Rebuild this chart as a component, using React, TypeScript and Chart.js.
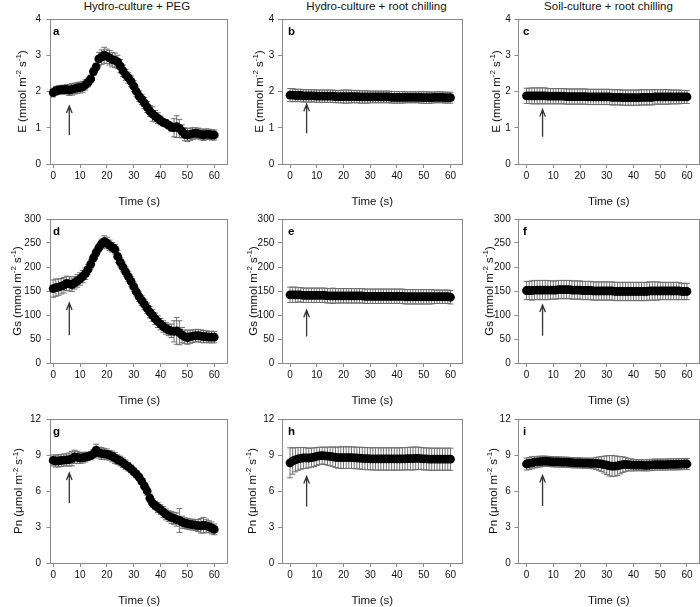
import React, { useEffect, useRef } from 'react';
import { Chart, registerables } from 'chart.js';

Chart.register(...registerables);

const FONT = "'Liberation Sans', Arial, Helvetica, sans-serif";
Chart.defaults.font.family = FONT;

// ---------------- data ----------------
const TIME = [
  0, 1, 2, 3, 4, 5, 6, 7, 8, 9, 10, 11, 12, 13, 14, 15, 16, 17, 18, 19, 20,
  21, 22, 23, 24, 25, 26, 27, 28, 29, 30, 31, 32, 33, 34, 35, 36, 37, 38, 39, 40,
  41, 42, 43, 44, 45, 46, 47, 48, 49, 50, 51, 52, 53, 54, 55, 56, 57, 58, 59, 60,
];

const X_TICKS = [0, 10, 20, 30, 40, 50, 60];
const Y_TICKS_E = [0, 1, 2, 3, 4];
const Y_TICKS_GS = [0, 50, 100, 150, 200, 250, 300];
const Y_TICKS_PN = [0, 3, 6, 9, 12];

const COL_TITLES = ['Hydro-culture + PEG', 'Hydro-culture + root chilling', 'Soil-culture + root chilling'];
const ROW_LABELS = ['E (mmol m', 'Gs (mmol m', 'Pn (\u03bcmol m'];
const PANEL_LETTERS = ['a', 'b', 'c', 'd', 'e', 'f', 'g', 'h', 'i'];
const X_TITLE = 'Time (s)';

// arrows (time, tail value, tip value) per panel a..i
const ARROW_TIME = [6, 6.2, 6, 6, 6.2, 6, 6, 6.2, 6];
const ARROW_FROM = [0.8, 0.85, 0.75, 58, 55, 57, 5.0, 4.7, 4.75];
const ARROW_TO = [1.6, 1.65, 1.5, 125, 110, 121, 7.5, 7.2, 7.3];

// E, transpiration
const E_PEG = [
  1.97, 2.02, 2.04, 2.05, 2.05, 2.06, 2.04, 2.06, 2.08, 2.10,
  2.11, 2.13, 2.18, 2.25, 2.35, 2.55, 2.68, 2.90, 2.95, 3.00,
  2.97, 2.93, 2.88, 2.86, 2.82, 2.70, 2.57, 2.46, 2.38, 2.28,
  2.15, 2.00, 1.87, 1.78, 1.68, 1.57, 1.46, 1.38, 1.32, 1.26,
  1.20, 1.15, 1.12, 1.07, 1.02, 1.00, 1.03, 0.98, 0.90, 0.82,
  0.80, 0.82, 0.84, 0.85, 0.84, 0.82, 0.80, 0.82, 0.82, 0.80,
  0.80,
];
const E_PEG_SD = [
  0.12, 0.12, 0.12, 0.12, 0.12, 0.13, 0.15, 0.16, 0.15, 0.15,
  0.15, 0.15, 0.14, 0.12, 0.10, 0.10, 0.10, 0.18, 0.20, 0.22,
  0.20, 0.20, 0.20, 0.20, 0.18, 0.18, 0.16, 0.15, 0.15, 0.15,
  0.15, 0.15, 0.14, 0.14, 0.15, 0.15, 0.15, 0.20, 0.16, 0.15,
  0.12, 0.10, 0.10, 0.10, 0.12, 0.25, 0.30, 0.25, 0.18, 0.18,
  0.18, 0.17, 0.16, 0.15, 0.15, 0.15, 0.15, 0.15, 0.14, 0.14,
  0.14,
];
const E_HC = [
  1.90, 1.90, 1.89, 1.89, 1.89, 1.88, 1.88, 1.88, 1.88, 1.88,
  1.87, 1.87, 1.87, 1.87, 1.87, 1.87, 1.87, 1.86, 1.86, 1.86,
  1.86, 1.86, 1.86, 1.86, 1.86, 1.86, 1.85, 1.85, 1.85, 1.85,
  1.85, 1.85, 1.85, 1.85, 1.85, 1.85, 1.85, 1.85, 1.84, 1.84,
  1.84, 1.84, 1.84, 1.84, 1.84, 1.84, 1.84, 1.84, 1.84, 1.84,
  1.83, 1.83, 1.83, 1.83, 1.84, 1.84, 1.84, 1.84, 1.83, 1.83,
  1.83,
];
const E_HC_SD = [
  0.18, 0.18, 0.17, 0.17, 0.17, 0.17, 0.17, 0.17, 0.17, 0.17,
  0.17, 0.17, 0.17, 0.17, 0.17, 0.17, 0.17, 0.17, 0.17, 0.17,
  0.18, 0.18, 0.18, 0.17, 0.17, 0.17, 0.17, 0.17, 0.17, 0.17,
  0.16, 0.16, 0.16, 0.16, 0.16, 0.16, 0.16, 0.16, 0.16, 0.16,
  0.16, 0.16, 0.16, 0.15, 0.15, 0.15, 0.15, 0.15, 0.15, 0.16,
  0.16, 0.16, 0.16, 0.15, 0.15, 0.15, 0.15, 0.15, 0.15, 0.15,
  0.15,
];
const E_SC = [
  1.88, 1.88, 1.88, 1.88, 1.88, 1.88, 1.88, 1.88, 1.87, 1.87,
  1.87, 1.87, 1.87, 1.87, 1.87, 1.86, 1.86, 1.86, 1.86, 1.86,
  1.86, 1.86, 1.86, 1.85, 1.85, 1.85, 1.85, 1.85, 1.85, 1.85,
  1.85, 1.85, 1.84, 1.84, 1.84, 1.84, 1.83, 1.83, 1.83, 1.83,
  1.83, 1.83, 1.83, 1.84, 1.84, 1.84, 1.84, 1.84, 1.85, 1.85,
  1.85, 1.85, 1.85, 1.85, 1.85, 1.85, 1.85, 1.85, 1.85, 1.85,
  1.85,
];
const E_SC_SD = [
  0.21, 0.21, 0.22, 0.22, 0.22, 0.22, 0.22, 0.22, 0.21, 0.21,
  0.21, 0.21, 0.21, 0.21, 0.21, 0.21, 0.21, 0.21, 0.21, 0.21,
  0.21, 0.21, 0.21, 0.21, 0.21, 0.21, 0.21, 0.21, 0.21, 0.21,
  0.21, 0.21, 0.21, 0.21, 0.21, 0.21, 0.21, 0.21, 0.21, 0.21,
  0.21, 0.21, 0.21, 0.21, 0.21, 0.21, 0.21, 0.21, 0.20, 0.20,
  0.20, 0.20, 0.20, 0.20, 0.19, 0.19, 0.19, 0.19, 0.18, 0.18,
  0.18,
];

// Gs, stomatal conductance
const GS_PEG = [
  155, 157, 158, 160, 162, 166, 165, 163, 167, 171,
  175, 180, 186, 195, 206, 219, 230, 240, 248, 253,
  250, 245, 241, 237, 222, 210, 200, 190, 180, 170,
  159, 148, 138, 130, 122, 114, 106, 99, 92, 86,
  81, 76, 72, 69, 67, 66, 67, 63, 58, 55,
  53, 55, 56, 57, 57, 56, 55, 55, 54, 54,
  54,
];
const GS_PEG_SD = [
  18, 18, 17, 16, 16, 15, 15, 14, 13, 13,
  13, 13, 12, 10, 10, 8, 8, 8, 10, 12,
  12, 11, 10, 10, 12, 10, 10, 10, 10, 10,
  10, 10, 10, 10, 11, 11, 12, 12, 12, 12,
  12, 12, 12, 12, 14, 22, 28, 25, 16, 14,
  14, 14, 13, 13, 13, 13, 13, 12, 12, 12,
  12,
];
const GS_HC = [
  142, 142, 142, 142, 142, 141, 141, 141, 141, 141,
  141, 141, 141, 141, 140, 140, 140, 140, 140, 140,
  140, 140, 140, 140, 140, 140, 140, 140, 139, 139,
  139, 139, 139, 139, 139, 139, 139, 139, 139, 139,
  139, 139, 139, 138, 138, 138, 138, 138, 138, 138,
  138, 138, 138, 138, 138, 138, 138, 138, 138, 138,
  137,
];
const GS_HC_SD = [
  16, 16, 16, 15, 15, 15, 15, 15, 15, 15,
  15, 15, 15, 15, 15, 15, 16, 15, 15, 15,
  15, 15, 15, 15, 15, 15, 15, 15, 15, 15,
  15, 15, 15, 15, 15, 15, 15, 15, 15, 15,
  15, 15, 15, 15, 15, 15, 15, 15, 15, 15,
  15, 15, 15, 15, 14, 14, 14, 14, 14, 14,
  14,
];
const GS_SC = [
  151, 151, 151, 152, 152, 152, 152, 152, 152, 152,
  152, 152, 153, 153, 153, 153, 153, 152, 152, 152,
  152, 151, 151, 151, 151, 150, 150, 150, 150, 150,
  150, 150, 150, 149, 149, 149, 149, 149, 149, 149,
  149, 149, 149, 149, 149, 149, 150, 150, 150, 150,
  150, 150, 150, 150, 150, 150, 150, 150, 149, 149,
  149,
];
const GS_SC_SD = [
  19, 19, 20, 20, 20, 20, 20, 20, 20, 19,
  19, 19, 19, 19, 19, 19, 19, 19, 19, 19,
  19, 19, 19, 19, 19, 19, 19, 19, 19, 19,
  19, 19, 19, 19, 19, 19, 19, 19, 19, 19,
  19, 19, 19, 19, 19, 19, 19, 19, 19, 19,
  18, 18, 18, 18, 18, 18, 18, 18, 17, 17,
  17,
];

// Pn, net photosynthesis
const PN_PEG = [
  8.55, 8.50, 8.50, 8.55, 8.58, 8.60, 8.62, 8.70, 8.85, 8.80,
  8.75, 8.78, 8.82, 8.88, 8.95, 9.10, 9.40, 9.20, 9.12, 9.10,
  9.05, 8.98, 8.88, 8.75, 8.62, 8.50, 8.35, 8.18, 8.02, 7.85,
  7.62, 7.40, 7.15, 6.80, 6.40, 6.00, 5.40, 5.00, 4.80, 4.62,
  4.45, 4.25, 4.05, 3.90, 3.80, 3.72, 3.62, 3.55, 3.40, 3.32,
  3.27, 3.22, 3.20, 3.16, 3.12, 3.10, 3.15, 3.10, 3.02, 2.92,
  2.80,
];
const PN_PEG_SD = [
  0.45, 0.50, 0.50, 0.50, 0.50, 0.50, 0.55, 0.60, 0.55, 0.50,
  0.45, 0.45, 0.40, 0.35, 0.35, 0.35, 0.50, 0.45, 0.50, 0.45,
  0.45, 0.40, 0.45, 0.45, 0.40, 0.40, 0.40, 0.40, 0.35, 0.30,
  0.30, 0.30, 0.25, 0.25, 0.30, 0.35, 0.35, 0.35, 0.35, 0.40,
  0.40, 0.45, 0.45, 0.45, 0.50, 0.50, 0.55, 1.00, 0.50, 0.45,
  0.45, 0.45, 0.45, 0.45, 0.50, 0.60, 0.65, 0.55, 0.50, 0.50,
  0.45,
];
const PN_HC = [
  8.35, 8.50, 8.60, 8.68, 8.72, 8.75, 8.75, 8.75, 8.78, 8.82,
  8.88, 8.92, 8.95, 8.93, 8.90, 8.88, 8.85, 8.80, 8.78, 8.78,
  8.78, 8.78, 8.78, 8.78, 8.76, 8.75, 8.74, 8.72, 8.70, 8.70,
  8.68, 8.68, 8.68, 8.67, 8.67, 8.67, 8.67, 8.67, 8.67, 8.67,
  8.67, 8.67, 8.68, 8.68, 8.70, 8.70, 8.70, 8.72, 8.72, 8.70,
  8.68, 8.67, 8.66, 8.65, 8.65, 8.65, 8.65, 8.65, 8.65, 8.65,
  8.65,
];
const PN_HC_SD = [
  1.25, 1.10, 1.00, 0.95, 0.90, 0.88, 0.85, 0.82, 0.80, 0.78,
  0.75, 0.72, 0.70, 0.72, 0.75, 0.78, 0.82, 0.85, 0.88, 0.90,
  0.90, 0.90, 0.90, 0.90, 0.90, 0.90, 0.90, 0.92, 0.92, 0.92,
  0.92, 0.92, 0.93, 0.93, 0.93, 0.93, 0.93, 0.93, 0.93, 0.93,
  0.93, 0.93, 0.93, 0.93, 0.93, 0.95, 0.95, 0.95, 0.93, 0.92,
  0.92, 0.92, 0.92, 0.92, 0.92, 0.92, 0.92, 0.92, 0.92, 0.92,
  0.92,
];
const PN_SC = [
  8.25, 8.30, 8.35, 8.40, 8.42, 8.45, 8.47, 8.48, 8.47, 8.45,
  8.43, 8.42, 8.42, 8.41, 8.40, 8.40, 8.38, 8.36, 8.35, 8.35,
  8.34, 8.33, 8.32, 8.32, 8.31, 8.30, 8.30, 8.28, 8.25, 8.20,
  8.15, 8.10, 8.08, 8.08, 8.10, 8.15, 8.20, 8.22, 8.20, 8.18,
  8.16, 8.15, 8.15, 8.15, 8.14, 8.14, 8.15, 8.18, 8.20, 8.20,
  8.20, 8.20, 8.20, 8.22, 8.22, 8.22, 8.22, 8.23, 8.24, 8.25,
  8.25,
];
const PN_SC_SD = [
  0.50, 0.50, 0.50, 0.48, 0.46, 0.45, 0.44, 0.42, 0.42, 0.42,
  0.42, 0.42, 0.42, 0.42, 0.42, 0.42, 0.42, 0.42, 0.42, 0.42,
  0.42, 0.42, 0.42, 0.42, 0.42, 0.45, 0.50, 0.55, 0.62, 0.70,
  0.78, 0.85, 0.88, 0.85, 0.80, 0.72, 0.65, 0.58, 0.52, 0.50,
  0.48, 0.46, 0.46, 0.46, 0.46, 0.46, 0.46, 0.46, 0.46, 0.46,
  0.46, 0.46, 0.46, 0.46, 0.46, 0.46, 0.46, 0.46, 0.46, 0.46,
  0.46,
];

const MEANS = [
  [E_PEG, E_HC, E_SC],
  [GS_PEG, GS_HC, GS_SC],
  [PN_PEG, PN_HC, PN_SC],
];
const SDS = [
  [E_PEG_SD, E_HC_SD, E_SC_SD],
  [GS_PEG_SD, GS_HC_SD, GS_SC_SD],
  [PN_PEG_SD, PN_HC_SD, PN_SC_SD],
];
const Y_TICKS = [Y_TICKS_E, Y_TICKS_GS, Y_TICKS_PN];

// ---------------- layout (pixels) ----------------
const BOX_X = [[50.5, 227.7], [282, 462.5], [518.5, 699]];
const BOX_Y = [[19, 164], [219, 363], [419, 563]];
const X_RANGE = [[-1, 65], [-3, 64.5], [-3, 64.5]];
const CANVAS_X = [[0, 230], [230, 465], [465, 700]];
const CANVAS_Y = [[0, 210], [200, 410], [400, 607]];
const Y_TICK_PAD = [5.5, 3.7, 3.8];
const Y_TITLE_X = [[22, 259, 496], [17, 253, 489], [18.5, 252, 493]];
const LETTER_DX = [2.5, 6, 4.5];
const COL_TITLE_X = [137, 376.5, 608.5];

const ERR_COLOR = '#6f6f6f';
const FRAME_COLOR = '#8a8a8a';
const TEXT_COLOR = '#111';

function Panel({ r, c }: { r: number; c: number }) {
  const ref = useRef<HTMLCanvasElement>(null);
  const left = CANVAS_X[c][0];
  const width = CANVAS_X[c][1] - left;
  const top = CANVAS_Y[r][0];
  const height = CANVAS_Y[r][1] - top;

  useEffect(() => {
    const canvas = ref.current;
    if (!canvas) return;
    const idx = r * 3 + c;
    const mean = MEANS[r][c];
    const sd = SDS[r][c];
    const pts = TIME.map((t, i) => ({ x: t, y: mean[i] }));
    const bars: any[] = [];
    const caps: any[] = [];
    TIME.forEach((t, i) => {
      const lo = mean[i] - sd[i];
      const hi = mean[i] + sd[i];
      bars.push({ x: t, y: lo }, { x: t, y: hi }, { x: t, y: null });
      caps.push({ x: t, y: lo }, { x: t, y: hi });
    });

    const boxL = BOX_X[c][0] - left;
    const boxR = BOX_X[c][1] - left;
    const boxT = BOX_Y[r][0] - top;
    const boxB = BOX_Y[r][1] - top;
    const yW = boxL;
    const xH = height - boxB;
    const titleLH = 11.5;
    const titlePadB = xH - 38 - titleLH / 2;

    const deco = {
      id: 'deco',
      beforeDatasetsDraw(chart: any) {
        const { ctx, chartArea: ca } = chart;
        ctx.save();
        ctx.strokeStyle = FRAME_COLOR;
        ctx.lineWidth = 1;
        const l = Math.floor(ca.left) + 0.5;
        const t = Math.floor(ca.top) + 0.5;
        const rr = Math.floor(ca.right) + 0.5;
        const b = Math.floor(ca.bottom) + 0.5;
        ctx.strokeRect(l, t, rr - l, b - t);
        ctx.restore();
      },
      afterDatasetsDraw(chart: any) {
        const { ctx, chartArea: ca } = chart;
        const xs = chart.scales.x;
        const ys = chart.scales.y;
        // arrow
        const ax = xs.getPixelForValue(ARROW_TIME[idx]);
        const y1 = ys.getPixelForValue(ARROW_FROM[idx]);
        const y2 = ys.getPixelForValue(ARROW_TO[idx]);
        ctx.save();
        ctx.strokeStyle = '#333';
        ctx.lineWidth = 1.3;
        ctx.beginPath();
        ctx.moveTo(ax, y1);
        ctx.lineTo(ax, y2);
        ctx.moveTo(ax - 2.8, y2 + 7);
        ctx.lineTo(ax, y2);
        ctx.lineTo(ax + 2.8, y2 + 7);
        ctx.stroke();
        // panel letter
        ctx.fillStyle = '#000';
        ctx.font = `bold 11.5px ${FONT}`;
        ctx.textAlign = 'left';
        ctx.textBaseline = 'alphabetic';
        ctx.fillText(PANEL_LETTERS[idx], ca.left + LETTER_DX[c], ca.top + 16);
        ctx.restore();
      },
      afterDraw(chart: any) {
        const { ctx, chartArea: ca } = chart;
        const parts: [string, boolean][] = [
          [ROW_LABELS[r], false],
          ['-2', true],
          [' s', false],
          ['-1', true],
          [')', false],
        ];
        const fN = `11.5px ${FONT}`;
        const fS = `8px ${FONT}`;
        ctx.save();
        let total = 0;
        const widths = parts.map(([txt, sup]) => {
          ctx.font = sup ? fS : fN;
          const w = ctx.measureText(txt).width;
          total += w;
          return w;
        });
        const cx = Y_TITLE_X[r][c] - left + 3.5;
        ctx.translate(cx, (ca.top + ca.bottom) / 2);
        ctx.rotate(-Math.PI / 2);
        ctx.fillStyle = TEXT_COLOR;
        ctx.textAlign = 'left';
        ctx.textBaseline = 'alphabetic';
        let px = -total / 2;
        parts.forEach(([txt, sup], i) => {
          ctx.font = sup ? fS : fN;
          ctx.fillText(txt, px, sup ? -4.5 : 0);
          px += widths[i];
        });
        ctx.restore();
      },
    };

    const chart = new Chart(canvas, {
      type: 'scatter',
      data: {
        datasets: [
          {
            type: 'scatter',
            data: pts,
            pointRadius: 4.4,
            pointBackgroundColor: '#000',
            pointBorderColor: '#000',
            pointBorderWidth: 0,
            order: 0,
            clip: false,
          } as any,
          {
            type: 'scatter',
            data: caps,
            pointStyle: 'line',
            pointRadius: 2.9,
            pointBorderColor: ERR_COLOR,
            borderColor: ERR_COLOR,
            pointBorderWidth: 1,
            order: 1,
            clip: false,
          } as any,
          {
            type: 'line',
            data: bars,
            borderColor: ERR_COLOR,
            borderWidth: 1,
            pointRadius: 0,
            spanGaps: false,
            fill: false,
            tension: 0,
            order: 2,
            clip: false,
          } as any,
        ],
      },
      options: {
        responsive: false,
        maintainAspectRatio: false,
        animation: false,
        devicePixelRatio: 1,
        events: [],
        layout: {
          autoPadding: false,
          padding: { left: 0, top: boxT, right: width - boxR, bottom: 0 },
        },
        plugins: {
          legend: { display: false },
          tooltip: { enabled: false },
          title: { display: false },
        },
        scales: {
          x: {
            type: 'linear',
            min: X_RANGE[c][0],
            max: X_RANGE[c][1],
            offset: false,
            afterBuildTicks: (scale: any) => {
              scale.ticks = X_TICKS.map((v) => ({ value: v }));
            },
            afterFit: (scale: any) => {
              scale.height = xH;
            },
            ticks: {
              autoSkip: false,
              maxRotation: 0,
              padding: 2.5,
              color: TEXT_COLOR,
              font: { size: 10, family: FONT },
              callback: (v: any) => String(v),
            },
            grid: {
              display: true,
              offset: false,
              drawOnChartArea: false,
              drawTicks: true,
              tickLength: 4,
              color: FRAME_COLOR,
              lineWidth: 1,
            },
            border: { display: false },
            title: {
              display: true,
              text: X_TITLE,
              color: TEXT_COLOR,
              font: { size: 11.5, family: FONT, lineHeight: 1 },
              padding: { top: 0, bottom: titlePadB },
            },
          },
          y: {
            type: 'linear',
            min: 0,
            max: Y_TICKS[r][Y_TICKS[r].length - 1],
            afterBuildTicks: (scale: any) => {
              scale.ticks = Y_TICKS[r].map((v) => ({ value: v }));
            },
            afterFit: (scale: any) => {
              scale.width = yW;
            },
            ticks: {
              autoSkip: false,
              padding: Y_TICK_PAD[c],
              color: TEXT_COLOR,
              font: { size: 10, family: FONT },
              callback: (v: any) => String(v),
            },
            grid: {
              display: true,
              drawOnChartArea: false,
              drawTicks: true,
              tickLength: 4,
              color: FRAME_COLOR,
              lineWidth: 1,
            },
            border: { display: false },
            title: { display: false },
          },
        },
      } as any,
      plugins: [deco],
    });
    return () => chart.destroy();
  }, [r, c]);

  return (
    <canvas
      ref={ref}
      width={width}
      height={height}
      style={{ position: 'absolute', left, top, width, height, display: 'block' }}
    />
  );
}

export default function App() {
  const panels = [];
  for (let r = 0; r < 3; r++) {
    for (let c = 0; c < 3; c++) {
      panels.push(<Panel key={`${r}-${c}`} r={r} c={c} />);
    }
  }
  return (
    <div
      style={{
        position: 'absolute',
        left: 0,
        top: 0,
        width: 700,
        height: 607,
        background: '#fff',
        overflow: 'hidden',
      }}
    >
      {COL_TITLES.map((t, i) => (
        <div
          key={t}
          style={{
            position: 'absolute',
            left: COL_TITLE_X[i] - 110,
            width: 220,
            top: -0.5,
            textAlign: 'center',
            fontFamily: FONT,
            fontSize: 11.5,
            lineHeight: '12px',
            color: TEXT_COLOR,
            whiteSpace: 'nowrap',
          }}
        >
          {t}
        </div>
      ))}
      {panels}
    </div>
  );
}
